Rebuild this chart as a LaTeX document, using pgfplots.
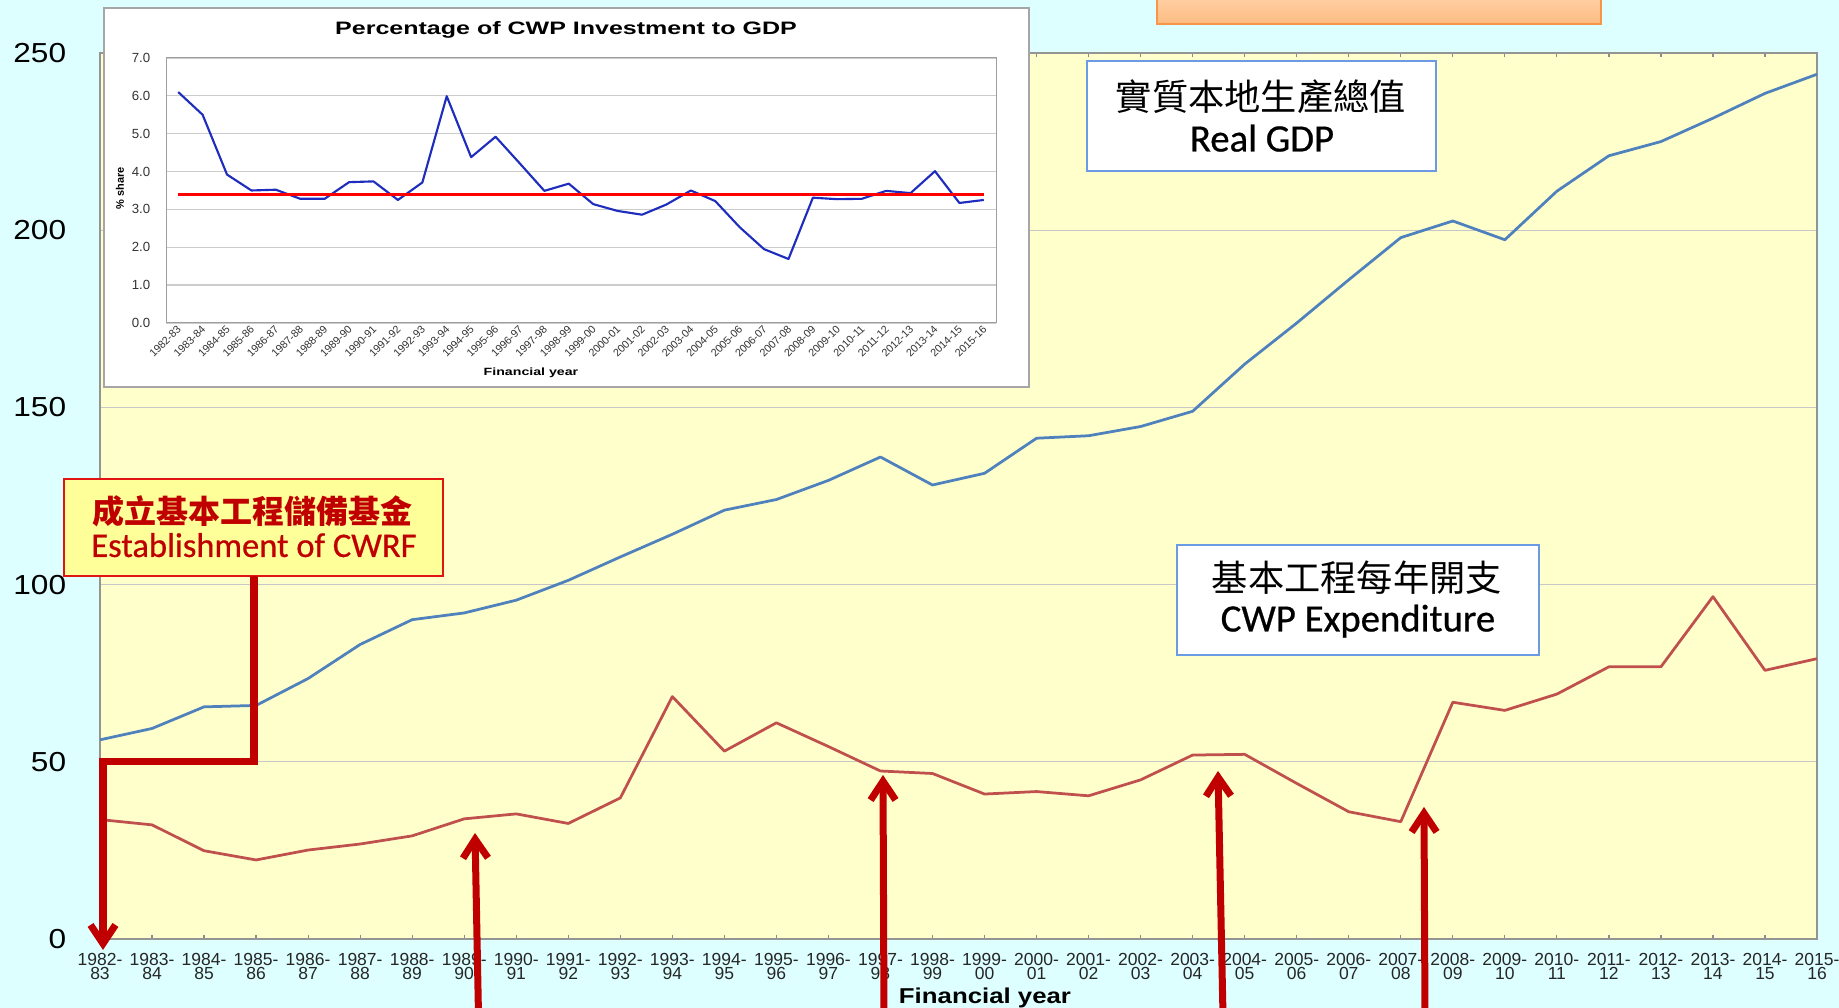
\documentclass[border=0pt]{standalone}
\usepackage{graphicx}
\usepackage{pgfplots}
\usepackage{pgfplotstable}
\pgfplotsset{compat=1.18}
\usepackage{fontspec}
\setmainfont{Liberation Sans}
\newfontfamily\calfont{Carlito}[FakeBold=0.6]
\newfontfamily\cjk{Noto Sans CJK TC}
\usetikzlibrary{arrows.meta}
\definecolor{bgcyan}{RGB}{221,255,255}
\definecolor{plotyellow}{RGB}{255,255,204}
\definecolor{gdpblue}{RGB}{79,129,189}
\definecolor{cwpred}{RGB}{192,80,77}
\definecolor{arrowred}{RGB}{192,0,0}
\definecolor{boxblue}{RGB}{108,155,230}
\definecolor{insetblue}{RGB}{30,45,190}
\definecolor{cwrffill}{RGB}{255,255,153}
\definecolor{cwrfedge}{RGB}{225,20,20}
\definecolor{orangetop}{RGB}{255,208,165}
\definecolor{orangebot}{RGB}{253,188,130}
\definecolor{orangeedge}{RGB}{247,150,70}

\pgfplotstableread{
i gdp cwp
0 56.2 33.7
1 59.4 32.2
2 65.5 24.9
3 65.9 22.3
4 73.5 25.1
5 83.1 26.8
6 90.1 29.1
7 92.0 33.9
8 95.6 35.3
9 101.2 32.6
10 107.8 39.8
11 114.2 68.4
12 121.0 53.0
13 124.0 61.0
14 129.4 54.3
15 136.0 47.4
16 128.1 46.7
17 131.4 40.9
18 141.3 41.6
19 142.0 40.4
20 144.6 44.9
21 148.9 51.9
22 162.2 52.1
23 173.8 43.9
24 186.0 35.9
25 197.9 33.1
26 202.6 66.8
27 197.3 64.5
28 211.0 69.1
29 221.0 76.8
30 225.0 76.8
31 231.6 96.6
32 238.6 75.8
33 244.0 79.1
}\maindata

\pgfplotstableread{
i share
0 6.10
1 5.50
2 3.92
3 3.50
4 3.52
5 3.28
6 3.28
7 3.72
8 3.74
9 3.25
10 3.71
11 5.99
12 4.38
13 4.92
14 4.21
15 3.49
16 3.68
17 3.14
18 2.96
19 2.86
20 3.13
21 3.50
22 3.22
23 2.53
24 1.95
25 1.69
26 3.31
27 3.27
28 3.28
29 3.49
30 3.43
31 4.01
32 3.17
33 3.25
}\insetdata

\begin{document}
\begin{tikzpicture}
\fill[bgcyan] (0,0) rectangle (735.6pt,403.2pt);
\useasboundingbox (0,0) rectangle (735.6pt,403.2pt);

% main chart
\begin{axis}[
  at={(40pt,27.6pt)}, anchor=south west, scale only axis,
  width=686.8pt, height=354.4pt,
  xmin=0, xmax=33, ymin=0, ymax=250,
  axis background/.style={fill=plotyellow},
  axis line style={draw=black!42, line width=0.6pt},
  ymajorgrids, major grid style={draw=black!22, line width=0.5pt},
  ytick={0,50,...,250},
  ytick style={draw=none},
  yticklabel={\scalebox{1.15}[1]{\pgfmathprintnumber{\tick}}},
  yticklabel style={font=\fontsize{11}{13}\selectfont, xshift=-10pt},
  xtick={0,...,33},
  xticklabels={{1982-\\83},{1983-\\84},{1984-\\85},{1985-\\86},{1986-\\87},{1987-\\88},{1988-\\89},{1989-\\90},{1990-\\91},{1991-\\92},{1992-\\93},{1993-\\94},{1994-\\95},{1995-\\96},{1996-\\97},{1997-\\98},{1998-\\99},{1999-\\00},{2000-\\01},{2001-\\02},{2002-\\03},{2003-\\04},{2004-\\05},{2005-\\06},{2006-\\07},{2007-\\08},{2008-\\09},{2009-\\10},{2010-\\11},{2011-\\12},{2012-\\13},{2013-\\14},{2014-\\15},{2015-\\16}},
  xticklabel style={font=\fontsize{7}{5.9}\selectfont, align=center, text=black!85, yshift=-2pt},
  x tick style={draw=black!45, line width=0.5pt},
  tick align=inside, major tick length=1.6pt,
  /pgf/number format/assume math mode=true,
]
\addplot[gdpblue, line width=1.1pt, line join=round] table[x=i,y=gdp]{\maindata};
\addplot[cwpred, line width=1.1pt, line join=round] table[x=i,y=cwp]{\maindata};
\end{axis}

% inset frame and other boxes (pixel coordinates, origin top-left)
\begin{scope}[x=0.4pt, y=-0.4pt, shift={(0,403.2pt)}]
  \draw[fill=white, draw=black!35, line width=0.6pt] (104,8) rectangle (1029,387);
  \shadedraw[top color=orangetop, bottom color=orangebot, draw=orangeedge, line width=0.7pt] (1157,-4) rectangle (1601,24);
\end{scope}

% inset chart
\begin{axis}[
  at={(66.4pt,274pt)}, anchor=south west, scale only axis,
  width=332pt, height=106pt,
  xmin=-0.5, xmax=33.5, ymin=0, ymax=7,
  axis line style={draw=black!38, line width=0.4pt},
  ytick={0,...,7}, ymajorgrids,
  major grid style={draw=black!20, line width=0.5pt},
  ytick style={draw=none},
  y tick label style={/pgf/number format/.cd, fixed, fixed zerofill, precision=1, /tikz/.cd, font=\fontsize{5.3}{6}\selectfont, text=black!80, xshift=-2.8pt},
  xtick={0,...,33},
  xticklabels={1982-83,1983-84,1984-85,1985-86,1986-87,1987-88,1988-89,1989-90,1990-91,1991-92,1992-93,1993-94,1994-95,1995-96,1996-97,1997-98,1998-99,1999-00,2000-01,2001-02,2002-03,2003-04,2004-05,2005-06,2006-07,2007-08,2008-09,2009-10,2010-11,2011-12,2012-13,2013-14,2014-15,2015-16},
  x tick label style={rotate=45, anchor=east, font=\fontsize{4.3}{4.8}\selectfont, text=black!80, inner sep=0.8pt, yshift=-1.5pt},
  xtick style={draw=none},
  extra x ticks={-0.5,0.5,...,33.5},
  extra x tick labels={},
  extra x tick style={major tick length=1.8pt, tick align=outside, grid=none, tick style={draw=black!40, line width=0.4pt}},
  /pgf/number format/assume math mode=true,
]
\addplot[insetblue, line width=0.85pt, line join=round] table[x=i,y=share]{\insetdata};
\addplot[red, line width=1.2pt] coordinates {(0,3.4) (33,3.4)};
\end{axis}

\begin{scope}[x=0.4pt, y=-0.4pt, shift={(0,403.2pt)}]
  % inset texts
  \node at (566,30) {\scalebox{1.39}[1]{\bfseries\fontsize{7.2}{8}\selectfont Percentage of CWP Investment to GDP}};
  \node[rotate=90] at (120,188) {\bfseries\fontsize{4.4}{5}\selectfont \% share};
  \node at (531,373) {\scalebox{1.35}[1]{\bfseries\fontsize{4.2}{5}\selectfont Financial year}};

  % main x label
  \node at (985,998) {\scalebox{1.2}[1]{\bfseries\fontsize{8.6}{10}\selectfont Financial year}};

  % Real GDP box
  \draw[boxblue, fill=white, line width=0.8pt] (1087,61) rectangle (1436,171);
  \node at (1261,97) {\cjk\fontsize{14.5}{16}\selectfont 實質本地生產總值};
  \node[anchor=base] at (1262,151.5) {\calfont\fontsize{15.5}{17}\selectfont Real GDP};

  % CWP Expenditure box
  \draw[boxblue, fill=white, line width=0.8pt] (1177,545) rectangle (1539,655);
  \node at (1357,578) {\cjk\fontsize{14.5}{16}\selectfont 基本工程每年開支};
  \node[anchor=base] at (1358,631.5) {\calfont\fontsize{15.5}{17}\selectfont CWP Expenditure};

  % CWRF box
  \draw[cwrfedge, fill=cwrffill, line width=0.8pt] (64,479) rectangle (443,576);
  \node[text=arrowred] at (253,511) {\cjk\bfseries\fontsize{12.8}{14}\selectfont 成立基本工程儲備基金};
  \node[text=arrowred, anchor=base] at (254,557) {\calfont\fontsize{13.8}{15}\selectfont Establishment of CWRF};

  % red arrows
  \begin{scope}[arrowred, line width=2.8pt, -{Straight Barb[length=7.5pt,width=10pt]}]
    \draw (254,576) -- (254,762) -- (103,762) -- (103,950);
    \draw (478.5,1015) -- (475,833);
    \draw (884,1015) -- (883,775);
    \draw (1223,1015) -- (1218,771);
    \draw (1425,1015) -- (1424,807);
  \end{scope}
\end{scope}
\end{tikzpicture}
\end{document}
